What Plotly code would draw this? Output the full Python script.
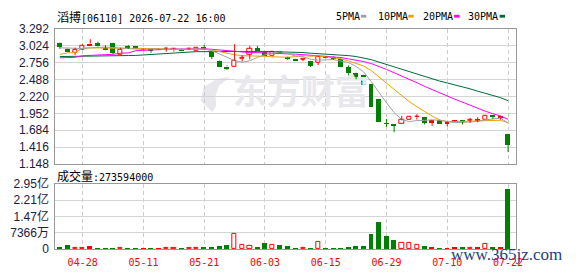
import plotly.graph_objects as go

W, H = 578, 276

dates = ["04-23", "04-24", "04-27", "04-28", "04-29", "04-30", "05-04", "05-05", "05-06", "05-07",
         "05-08", "05-11", "05-12", "05-13", "05-14", "05-15", "05-18", "05-19", "05-20", "05-21",
         "05-22", "05-26", "05-27", "05-28", "05-29", "06-01", "06-02", "06-03", "06-04", "06-05",
         "06-08", "06-09", "06-10", "06-11", "06-12", "06-15", "06-16", "06-17", "06-18", "06-22",
         "06-23", "06-24", "06-26", "06-29", "06-30", "07-02", "07-03", "07-06", "07-07", "07-08",
         "07-09", "07-10", "07-13", "07-14", "07-15", "07-16", "07-17", "07-20", "07-21", "07-22"]

opens = [3.067, 2.982, 2.912, 2.962, 3.057, 3.067, 2.975, 3.067, 2.882, 3.000,
         3.017, 2.972, 2.988, 2.970, 2.968, 2.952, 2.972, 2.968, 2.937, 3.002,
         2.932, 2.782, 2.697, 2.697, 2.818, 2.882, 2.987, 2.922, 2.860, 2.947,
         2.835, 2.817, 2.800, 2.787, 2.752, 2.852, 2.852, 2.820, 2.687, 2.602,
         2.562, 2.417, 2.177, 1.797, 1.772, 1.787, 1.852, 1.890, 1.892, 1.842,
         1.842, 1.827, 1.842, 1.852, 1.840, 1.862, 1.852, 1.927, 1.912, 1.627]
highs = [3.075, 2.990, 2.992, 3.042, 3.127, 3.087, 3.032, 3.070, 2.992, 3.037,
         3.020, 2.975, 2.990, 2.975, 3.000, 2.990, 2.975, 2.980, 3.000, 3.035,
         2.935, 2.790, 2.712, 3.047, 2.873, 3.022, 3.020, 2.925, 2.940, 2.950,
         2.850, 2.820, 2.820, 2.790, 2.862, 2.860, 2.862, 2.825, 2.712, 2.610,
         2.565, 2.420, 2.180, 1.862, 1.777, 1.912, 1.905, 1.937, 1.895, 1.845,
         1.850, 1.830, 1.845, 1.855, 1.877, 1.892, 1.915, 1.930, 1.915, 1.630]
lows = [2.975, 2.920, 2.877, 2.958, 3.032, 3.012, 2.952, 2.892, 2.872, 2.972,
        2.975, 2.960, 2.913, 2.955, 2.930, 2.930, 2.950, 2.955, 2.930, 2.960,
        2.810, 2.687, 2.640, 2.690, 2.773, 2.807, 2.935, 2.860, 2.855, 2.910,
        2.800, 2.790, 2.780, 2.687, 2.717, 2.830, 2.800, 2.680, 2.552, 2.492,
        2.400, 2.050, 1.810, 1.737, 1.652, 1.785, 1.845, 1.852, 1.777, 1.752,
        1.782, 1.742, 1.815, 1.777, 1.800, 1.810, 1.850, 1.862, 1.852, 1.337]
closes = [3.012, 2.922, 2.962, 3.017, 3.032, 3.037, 2.967, 2.912, 2.967, 2.995,
          2.977, 2.968, 2.958, 2.962, 2.970, 2.972, 2.955, 2.970, 2.997, 2.962,
          2.847, 2.687, 2.657, 2.787, 2.823, 2.972, 2.957, 2.862, 2.925, 2.912,
          2.825, 2.792, 2.802, 2.712, 2.842, 2.842, 2.822, 2.685, 2.587, 2.537,
          2.402, 2.052, 1.812, 1.787, 1.767, 1.842, 1.892, 1.895, 1.802, 1.817,
          1.792, 1.792, 1.822, 1.817, 1.842, 1.845, 1.912, 1.902, 1.877, 1.452]
# r = rising (red), g = falling (green)
candle_colors = list("ggrrrgggrggrgrrrgrrggggrrrggrgggrgrggggggggggrrrgrgrrgrrrgrg")

volumes = [8500000, 20000000, 7000000, 7000000, 13000000, 4300000, 4300000, 4300000, 3800000, 4000000,
           4300000, 3800000, 4300000, 3800000, 4000000, 4000000, 4300000, 3800000, 4000000, 8500000,
           8500000, 13000000, 17000000, 71000000, 21000000, 16000000, 10000000, 30000000, 17000000, 21000000,
           13000000, 4300000, 4300000, 4300000, 33000000, 4300000, 4300000, 4300000, 8500000, 13000000,
           13000000, 68000000, 124000000, 60000000, 43000000, 29000000, 29000000, 21000000, 13000000, 8500000,
           4300000, 4300000, 8500000, 8500000, 4300000, 8500000, 24000000, 8500000, 8500000, 273594000]

ma5 = [2.990, 2.985, 2.975, 2.980, 2.989, 2.994, 3.003, 2.993, 2.983, 2.976,
       2.964, 2.964, 2.973, 2.972, 2.967, 2.966, 2.963, 2.966, 2.973, 2.971,
       2.946, 2.893, 2.830, 2.788, 2.760, 2.785, 2.839, 2.880, 2.908, 2.926,
       2.896, 2.863, 2.851, 2.809, 2.795, 2.798, 2.804, 2.781, 2.756, 2.695,
       2.607, 2.453, 2.278, 2.118, 1.964, 1.852, 1.820, 1.837, 1.840, 1.850,
       1.840, 1.820, 1.805, 1.808, 1.813, 1.824, 1.848, 1.864, 1.876, 1.798]
ma10 = [2.887, 2.910, 2.915, 2.985, 2.990, 2.990, 2.990, 2.985, 2.985, 2.982,
        2.979, 2.983, 2.983, 2.978, 2.971, 2.965, 2.964, 2.969, 2.972, 2.969,
        2.956, 2.928, 2.898, 2.880, 2.866, 2.866, 2.866, 2.855, 2.848, 2.843,
        2.841, 2.851, 2.866, 2.858, 2.860, 2.847, 2.834, 2.816, 2.782, 2.745,
        2.702, 2.628, 2.529, 2.437, 2.329, 2.229, 2.136, 2.057, 1.979, 1.907,
        1.846, 1.820, 1.821, 1.824, 1.831, 1.832, 1.834, 1.834, 1.842, 1.805]
ma20 = [2.832, 2.835, 2.840, 2.865, 2.870, 2.875, 2.885, 2.888, 2.905, 2.910,
        2.945, 2.950, 2.965, 2.970, 2.970, 2.972, 2.972, 2.975, 2.975, 2.976,
        2.967, 2.956, 2.940, 2.929, 2.919, 2.915, 2.915, 2.912, 2.910, 2.906,
        2.898, 2.890, 2.882, 2.869, 2.863, 2.856, 2.850, 2.836, 2.815, 2.794,
        2.772, 2.740, 2.698, 2.648, 2.595, 2.538, 2.485, 2.437, 2.380, 2.326,
        2.274, 2.224, 2.175, 2.130, 2.080, 2.030, 1.985, 1.946, 1.910, 1.856]
ma30 = [2.852, 2.855, 2.857, 2.860, 2.862, 2.862, 2.864, 2.865, 2.866, 2.868,
        2.870, 2.878, 2.882, 2.890, 2.905, 2.910, 2.912, 2.925, 2.930, 2.930,
        2.932, 2.933, 2.933, 2.934, 2.935, 2.935, 2.934, 2.933, 2.932, 2.931,
        2.925, 2.921, 2.916, 2.905, 2.899, 2.893, 2.888, 2.880, 2.867, 2.852,
        2.833, 2.803, 2.764, 2.725, 2.685, 2.647, 2.612, 2.576, 2.536, 2.498,
        2.463, 2.433, 2.405, 2.373, 2.340, 2.303, 2.268, 2.236, 2.201, 2.152]

price_ticks = [1.148, 1.416, 1.684, 1.952, 2.220, 2.488, 2.756, 3.024, 3.292]
vol_ticks = [0, 73660000, 147320000, 220980000, 294640000]
vol_tick_text = ["0", "7366万", "1.47亿", "2.21亿", "2.95亿"]
tick_dates = ["04-28", "05-11", "05-21", "06-03", "06-15", "06-29", "07-10", "07-22"]

title_name = "滔搏"
title_rest = "[06110] 2026-07-22 16:00"
vol_label = "成交量:273594000"
ma_names = ["5PMA", "10PMA", "20PMA", "30PMA"]

RED = "#ff0000"
GREEN = "#008000"
MA_COLORS = ["#a0a0a0", "#f0a000", "#ff00ff", "#006a38"]
WM = "#e8e8ec"


def px(x):
    return x / W


def py(y):
    return 1 - y / H


xs = list(range(len(dates)))
tickpos = [dates.index(d) for d in tick_dates]

fig = go.Figure()

# watermark behind the lines
fig.add_trace(go.Scatter(x=[31.7], y=[2.232], mode="text", text=["东方财富"],
                         textfont=dict(family="Noto Sans CJK SC", size=34, color=WM, weight=700),
                         hoverinfo="skip", showlegend=False, xaxis="x", yaxis="y"))

# classify candles
groups = {"r_hollow": [], "r_fill": [], "g_fill": []}
for i in xs:
    if candle_colors[i] == "r":
        key = "r_hollow" if closes[i] > opens[i] else "r_fill"
    else:
        key = "g_fill"
    groups[key].append(i)

styles = {
    "r_hollow": dict(color="#ffffff", line=dict(color=RED, width=1), width=0.55),
    "r_fill": dict(color=RED, line=dict(color=RED, width=0), width=0.65),
    "g_fill": dict(color=GREEN, line=dict(color=GREEN, width=0), width=0.65),
}

for key, idx in groups.items():
    st = styles[key]
    base = [min(opens[i], closes[i]) for i in idx]
    hgt = [max(abs(closes[i] - opens[i]), 0.012) for i in idx]
    fig.add_trace(go.Bar(x=idx, y=hgt, base=base, width=st["width"],
                         marker=dict(color=st["color"], line=st["line"]),
                         hoverinfo="skip", showlegend=False, xaxis="x", yaxis="y"))
    vbar_w = 0.55 if key == "r_hollow" else 0.65
    fig.add_trace(go.Bar(x=idx, y=[volumes[i] for i in idx], width=vbar_w,
                         marker=dict(color=st["color"], line=st["line"]),
                         hoverinfo="skip", showlegend=False, xaxis="x2", yaxis="y2"))

# MA lines
for arr, col in zip([ma30, ma20, ma10, ma5], MA_COLORS[::-1]):
    fig.add_trace(go.Scatter(x=xs, y=arr, mode="lines", line=dict(color=col, width=1),
                             hoverinfo="skip", showlegend=False, xaxis="x", yaxis="y"))

# wicks
for colkey, col in (("r", RED), ("g", GREEN)):
    wx, wy = [], []
    for i in xs:
        if candle_colors[i] != colkey:
            continue
        lo_b = min(opens[i], closes[i])
        hi_b = max(opens[i], closes[i])
        wx += [i, i, None, i, i, None]
        wy += [lows[i], lo_b, None, hi_b, highs[i], None]
    fig.add_trace(go.Scatter(x=wx, y=wy, mode="lines", line=dict(color=col, width=1),
                             hoverinfo="skip", showlegend=False, xaxis="x", yaxis="y"))

xdom = [px(56), px(522)]
common_x = dict(domain=xdom, range=[-0.6, 60.0], tickmode="array", tickvals=tickpos,
                ticktext=tick_dates, showgrid=True, gridcolor="#cccccc", griddash="4px,3px",
                gridwidth=1, showline=True, linecolor="#999999", linewidth=1, mirror=True,
                ticks="", zeroline=False, fixedrange=True)

fig.update_layout(
    width=W, height=H, margin=dict(l=0, r=0, t=0, b=0),
    paper_bgcolor="white", plot_bgcolor="white", barmode="overlay", bargap=0,
    showlegend=False,
    xaxis=dict(common_x, anchor="y", showticklabels=False),
    xaxis2=dict(common_x, anchor="y2", showticklabels=True,
                tickfont=dict(family="DejaVu Sans Mono", size=10, color=RED),
                ticklabelstandoff=4),
    yaxis=dict(domain=[py(165), py(22)], range=[1.148, 3.292], tickmode="array",
               tickvals=price_ticks, ticktext=["%.3f" % v for v in price_ticks],
               showgrid=True, gridcolor="#d4d4d4", gridwidth=1, showline=True,
               linecolor="#999999", linewidth=1, mirror=True, ticks="", zeroline=False,
               tickfont=dict(family="Liberation Sans", size=12, color="#202040"),
               ticklabelstandoff=3, fixedrange=True),
    yaxis2=dict(domain=[py(255), py(186)], range=[0, 294640000], tickmode="array",
                tickvals=vol_ticks, ticktext=vol_tick_text,
                showgrid=True, gridcolor="#d4d4d4", gridwidth=1, showline=True,
                linecolor="#999999", linewidth=1, mirror=True, ticks="", zeroline=False,
                tickfont=dict(family="Liberation Sans, Noto Sans CJK SC", size=12, color="#202040"),
                ticklabelstandoff=3, fixedrange=True),
)

ann = []
ann.append(dict(xref="paper", yref="paper", x=px(56), y=py(8.5), xanchor="left", yanchor="middle",
                showarrow=False,
                text='<span style="font-family:Noto Sans CJK SC;font-size:12px">' + title_name + '</span>' + title_rest,
                font=dict(family="DejaVu Sans Mono", size=10, color="#000000")))
ann.append(dict(xref="paper", yref="paper", x=px(56), y=py(177), xanchor="left", yanchor="middle",
                showarrow=False,
                text='<span style="font-family:Noto Sans CJK SC;font-size:12px">' + vol_label[:3] + '</span>' + vol_label[3:],
                font=dict(family="DejaVu Sans Mono", size=10, color="#000000")))

legend_x = [338, 380.5, 426, 471.5]
marker_x = [365.3, 413.3, 459.7, 505.7]
shapes = []
for name, lx, mx, col in zip(ma_names, legend_x, marker_x, MA_COLORS):
    ann.append(dict(xref="paper", yref="paper", x=px(lx), y=py(8.5), xanchor="left", yanchor="middle",
                    showarrow=False, text=name,
                    font=dict(family="DejaVu Sans Mono", size=10, color="#000000")))
    shapes.append(dict(type="rect", xref="paper", yref="paper", x0=px(mx), x1=px(mx + 5.5),
                       y0=py(10.2), y1=py(7.2), fillcolor=col, line=dict(width=0)))

# watermark logo (stylised swoosh), drawn below the traces
logo_pts = [(215, 110), (203, 98), (206, 84), (219, 75), (233, 73), (222, 82), (218, 93), (219, 103)]
path = "M " + " L ".join("%.5f,%.5f" % (px(a), py(b)) for a, b in logo_pts) + " Z"
shapes.append(dict(type="path", xref="paper", yref="paper", path=path, fillcolor=WM,
                   line=dict(width=0), layer="below"))

ann.append(dict(xref="paper", yref="paper", x=px(455), y=py(261), xanchor="left", yanchor="middle",
                showarrow=False, text="www.365jz.com",
                font=dict(family="Liberation Serif", size=17, color="#1f3f7c")))

fig.update_layout(annotations=ann, shapes=shapes)

fig.write_html("out.html", config={"displayModeBar": False})
